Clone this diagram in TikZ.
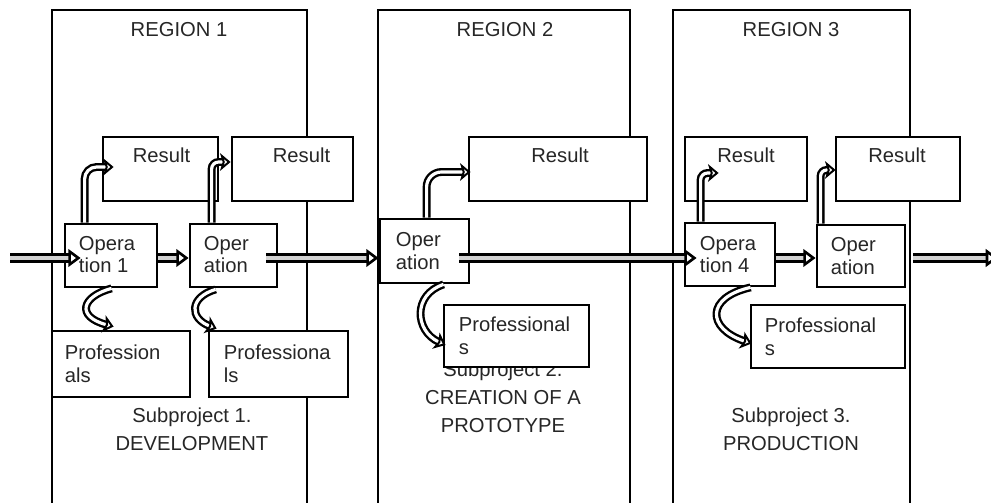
\documentclass[tikz,border=0pt]{standalone}
\usepackage{fontspec}
\setmainfont{Liberation Sans}
\usetikzlibrary{arrows.meta,calc,fit}

\tikzset{
  region/.style={draw, line width=1.6pt, inner sep=0pt},
  box/.style={draw, line width=1.6pt, fill=white, inner sep=0pt},
  txt/.style={align=left, inner sep=0pt, text=black!85, font=\fontsize{11.5}{13}\selectfont},
  sub/.style={align=center, inner sep=0pt, text=black!85, font=\fontsize{11.5}{16}\selectfont},
  flow/.style={line width=1.5pt, double=gray!35, double distance=2.4pt,
    -{Triangle[open, length=7pt, width=10pt]}},
  feed/.style={line width=1.35pt, double=white, double distance=1.8pt,
    -{Stealth[open, length=6pt, width=10pt, inset=1.5pt]}},
}

\begin{document}
\begin{tikzpicture}[x=0.02cm, y=-0.02cm]
\useasboundingbox (0,0) rectangle (991,503);
\clip (0,0) rectangle (991,503);
% regions
    \node[region, fit={(52,10) (307,530)}] (reg1) {};
    \node[region, fit={(378,10) (630,530)}] (reg2) {};
    \node[region, fit={(673,10) (910,530)}] (reg3) {};
    \node[txt] (reg1t) at (179,30) {REGION 1};
    \node[txt] (reg2t) at (505,30) {REGION 2};
    \node[txt] (reg3t) at (791,30) {REGION 3};
    \node[sub] (sub1) at (192,429) {Subproject 1.\\DEVELOPMENT};
    \node[sub] (sub2) at (503,397) {Subproject 2.\\CREATION OF A\\PROTOTYPE};
    \node[sub] (sub3) at (791,429) {Subproject 3.\\PRODUCTION};
% results
    \node[box, fit={(103,137) (218,201)}] (r1) {};
    \node[box, fit={(232,137) (353,201)}] (r2) {};
    \node[box, fit={(469,137) (647,201)}] (r3) {};
    \node[box, fit={(685,137) (807,201)}] (r4) {};
    \node[box, fit={(836,137) (960,201)}] (r5) {};
    \node[txt] (r1t) at ($(r1.north)+(1,20)$) {Result};
    \node[txt] (r2t) at ($(r2.north)+(9,20)$) {Result};
    \node[txt] (r3t) at ($(r3.north)+(2,20)$) {Result};
    \node[txt] (r4t) at ($(r4.north)+(0,20)$) {Result};
    \node[txt] (r5t) at ($(r5.north)+(-1,20)$) {Result};
% operations
    \node[box, fit={(65,224) (157,287)}] (op1) {};
    \node[box, fit={(190,224) (277,287)}] (op2) {};
    \node[box, fit={(380,219) (469,283)}] (op3) {};
    \node[box, fit={(685,223) (775,286)}] (op4) {};
    \node[box, fit={(817,225) (905,287)}] (op5) {};
    \node[txt, anchor=west] (op1t) at ($(op1.west)+(15,-1)$) {Opera\\tion 1};
    \node[txt, anchor=west] (op2t) at ($(op2.west)+(15,-1)$) {Oper\\ation};
    \node[txt, anchor=west] (op3t) at ($(op3.west)+(17,0)$) {Oper\\ation};
    \node[txt, anchor=west] (op4t) at ($(op4.west)+(16,0)$) {Opera\\tion 4};
    \node[txt, anchor=west] (op5t) at ($(op5.west)+(15,0)$) {Oper\\ation};
% professionals
    \node[box, fit={(52,331) (190,397)}] (p1) {};
    \node[box, fit={(209,331) (348,397)}] (p2) {};
    \node[box, fit={(444,305) (589,367)}] (p3) {};
    \node[box, fit={(751,305) (905,368)}] (p4) {};
    \node[txt, anchor=west] (p1t) at ($(p1.west)+(14,0)$) {Profession\\als};
    \node[txt, anchor=west] (p2t) at ($(p2.west)+(16,0)$) {Professiona\\ls};
    \node[txt, anchor=west] (p3t) at ($(p3.west)+(16,0)$) {Professional\\s};
    \node[txt, anchor=west] (p4t) at ($(p4.west)+(15,0)$) {Professional\\s};
% main flow
    \coordinate (in) at (10,258);
    \coordinate (out) at (998,258);
    \draw[flow] (in) -- ($(op1.west |- in)+(17,0)$);
    \draw[flow] (op1.east |- in) -- (op2.west |- in);
    \draw[flow] ($(op2.east |- in)+(-12,0)$) -- (op3.west |- in);
    \draw[flow] ($(op3.east |- in)+(-11,0)$) -- ($(op4.west |- in)+(13,0)$);
    \draw[flow] (op4.east |- in) -- (op5.west |- in);
    \draw[flow] ($(op5.east |- in)+(7,0)$) -- (out);
% to results
    \draw[feed, rounded corners=0.24cm] ($(op1.north west)+(21,0)$) |- ($(r1.west)+(12,-2)$);
    \draw[feed, rounded corners=0.14cm] ($(op2.north west)+(23,0)$) |- ($(r2.west)+(0,-7)$);
    \draw[feed, rounded corners=0.3cm] ($(op3.north west)+(48,0)$) |- ($(r3.west)+(3,3)$);
    \draw[feed, rounded corners=0.14cm] ($(op4.north west)+(17,0)$) |- ($(r4.west)+(35,4)$);
    \draw[feed, rounded corners=0.12cm] ($(op5.north west)+(5,0)$) |- ($(r5.west)+(1,1)$);
% to professionals
    \draw[feed] ($(op1.south west)+(48,0)$) .. controls +(-30,8) and +(-38,-10) .. ($(p1.north west)+(63,-3)$);
    \draw[feed] ($(op2.south west)+(27,1)$) .. controls +(-27,8) and +(-27,-10) .. ($(p2.north west)+(9,-1)$);
    \draw[feed] ($(op3.south west)+(65,0)$) .. controls +(-31,10) and +(-31,-14) .. ($(p3.west)+(3,9)$);
    \draw[feed] ($(op4.south west)+(67,0)$) .. controls +(-45,10) and +(-45,-15) .. ($(p4.west)+(2,7)$);
\end{tikzpicture}
\end{document}
